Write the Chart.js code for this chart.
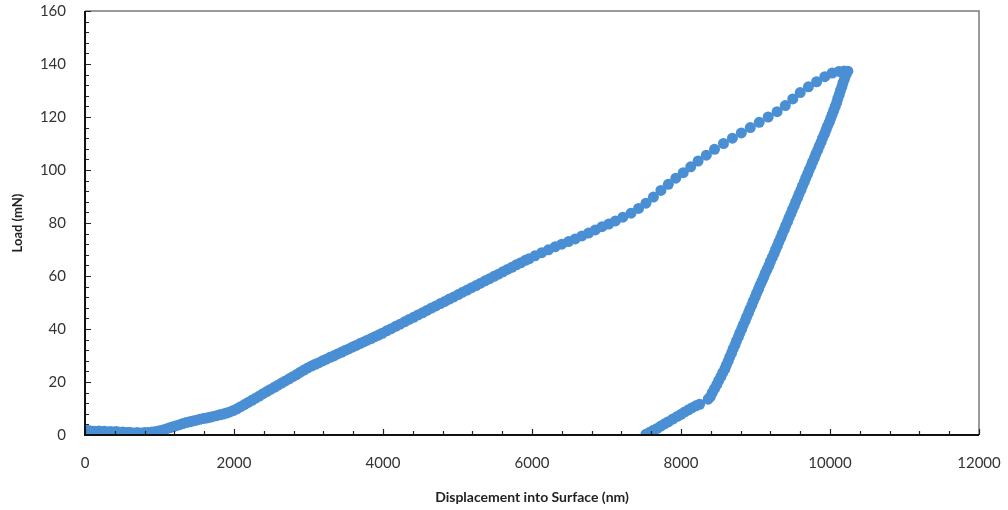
<!DOCTYPE html>
<html>
<head>
<meta charset="utf-8">
<script src="https://cdn.jsdelivr.net/npm/chart.js@4.4.1/dist/chart.umd.min.js"></script>
<style>
  html, body { margin: 0; padding: 0; background: #fff; }
  #wrap { width: 1008px; height: 510px; }
</style>
</head>
<body>
<div id="wrap"><canvas id="curve"></canvas></div>
<script>
// axis ranges and labels
var xTitle = 'Displacement into Surface (nm)';
var yTitle = 'Load (mN)';
var xTicks = [0, 2000, 4000, 6000, 8000, 10000, 12000];
var yTicks = [0, 20, 40, 60, 80, 100, 120, 140, 160];

// loading branch [nm, mN]
var loading = [
  [0,0.3],[10,1.5],[25,0.8],[40,1.7],[60,1.0],[80,1.5],[105,1.1],[130,1.4],[160,1.2],[190,1.5],
  [225,1.2],[260,1.4],[300,1.1],[340,1.3],[380,1.1],[420,1.3],[460,1.0],[505,1.1],[550,0.9],[600,1.0],
  [650,0.8],[700,0.9],[750,0.8],[800,0.9],[850,0.9],[900,1.1],[950,1.3],[1000,1.6],[1045,1.9],[1090,2.3],
  [1135,2.7],[1180,3.1],[1225,3.5],[1270,3.9],[1315,4.3],[1360,4.7],[1405,5.0],[1450,5.3],[1495,5.6],[1540,5.9],
  [1585,6.2],[1630,6.4],[1675,6.7],[1720,7.0],[1765,7.3],[1810,7.6],[1855,7.9],[1900,8.3],[1945,8.7],[1990,9.2],
  [2040,9.9],[2090,10.7],[2140,11.5],[2190,12.3],[2240,13.1],[2290,13.9],[2340,14.7],[2390,15.6],[2440,16.4],[2490,17.2],
  [2540,18.0],[2590,18.8],[2640,19.6],[2690,20.4],[2740,21.2],[2790,22.0],[2840,22.8],[2890,23.7],[2940,24.5],[2990,25.3],
  [3040,26.0],[3090,26.7],[3140,27.3],[3190,28.0],[3240,28.6],[3290,29.3],[3340,29.9],[3390,30.6],[3440,31.2],[3490,31.9],
  [3540,32.5],[3590,33.2],[3640,33.8],[3690,34.5],[3740,35.1],[3790,35.8],[3840,36.4],[3890,37.1],[3940,37.7],[3990,38.4],
  [4050,39.3],[4110,40.1],[4170,41.0],[4230,41.8],[4290,42.7],[4350,43.6],[4410,44.4],[4470,45.3],[4530,46.1],[4590,47.0],
  [4650,47.9],[4710,48.7],[4770,49.6],[4830,50.4],[4890,51.3],[4950,52.1],[5010,53.0],[5070,53.9],[5130,54.7],[5190,55.6],
  [5250,56.4],[5310,57.3],[5370,58.2],[5430,59.0],[5490,59.9],[5550,60.7],[5610,61.6],[5670,62.5],[5730,63.3],[5790,64.2],
  [5850,65.0],[5910,65.9],[5960,66.5],
  [6040,67.6],[6130,68.8],[6220,69.9],[6310,71.0],[6400,72.0],[6490,73.0],[6580,74.0],[6670,75.1],[6760,76.2],[6850,77.4],
  [6940,78.6],[7030,79.6],[7120,80.8],[7220,82.2],[7330,83.7],[7430,85.5],[7530,87.5],[7630,89.8],[7730,92.3],[7830,94.6],
  [7930,96.9],[8030,99.0],[8130,101.2],[8230,103.4],[8340,105.6],[8450,107.8],[8570,110.0],[8690,112.0],[8810,114.0],[8930,116.0],
  [9050,118.0],[9170,120.0],[9290,122.0],[9400,124.3],[9500,126.8],[9600,129.2],[9710,131.4],[9820,133.3],[9930,135.2],[10030,136.6],
  [10120,137.2],[10190,137.4]
];

// unloading branch [nm, mN]
var unloading = [
  [10240,137.3],[10215,136.0],[10195,134.5],[10175,133.0],[10160,131.5],[10140,130.0],[10125,128.5],[10105,127.0],[10090,125.5],[10070,124.0],
  [10050,122.5],[10030,121.0],[10010,119.5],[9990,118.0],[9965,116.5],[9945,115.0],[9925,113.5],[9900,112.0],[9880,110.5],[9855,109.0],
  [9835,107.5],[9810,106.0],[9790,104.5],[9765,103.0],[9745,101.5],[9720,100.0],[9700,98.5],[9675,97.0],[9655,95.5],[9630,94.0],
  [9610,92.5],[9585,91.0],[9565,89.5],[9540,88.0],[9520,86.5],[9495,85.0],[9475,83.5],[9450,82.0],[9430,80.5],[9405,79.0],
  [9385,77.5],[9360,76.0],[9340,74.5],[9315,73.0],[9295,71.5],[9270,70.0],[9250,68.5],[9225,67.0],[9200,65.5],[9180,64.0],
  [9155,62.5],[9130,61.0],[9110,59.5],[9085,58.0],[9060,56.5],[9040,55.0],[9015,53.5],[8995,52.0],[8970,50.5],[8950,49.0],
  [8925,47.5],[8905,46.0],[8880,44.5],[8860,43.0],[8835,41.5],[8815,40.0],[8790,38.5],[8770,37.0],[8745,35.5],[8725,34.0],
  [8700,32.5],[8680,31.0],[8655,29.5],[8635,28.0],[8610,26.5],[8590,25.0],[8560,23.5],[8535,22.0],[8505,20.5],[8480,19.0],
  [8450,17.5],[8420,16.0],[8395,14.5],[8365,13.5],
  [8250,11.6],[8200,11.0],[8150,10.3],[8100,9.5],[8050,8.7],[8000,7.8],[7950,7.0],[7890,6.0],[7830,5.0],[7780,4.2],
  [7730,3.4],[7680,2.5],[7630,1.8],[7580,1.0],[7530,0.3]
];

var dotColor = '#4a8fd4';
var fontFamily = 'Lato, "Open Sans", sans-serif';

function toPoints(arr) {
  return arr.map(function (p) { return { x: p[0], y: p[1] }; });
}

// frame on top/right plus inside tick marks, like the spreadsheet chart
var frameTicks = {
  id: 'frameTicks',
  afterDraw: function (chart) {
    var c = chart.ctx, a = chart.chartArea;
    var xs = chart.scales.x, ys = chart.scales.y;
    c.save();
    c.strokeStyle = '#7a7a7a';
    c.lineWidth = 1.5;
    c.beginPath();
    c.moveTo(a.left, a.top); c.lineTo(a.right, a.top); c.lineTo(a.right, a.bottom);
    c.stroke();

    c.strokeStyle = '#222';
    c.lineWidth = 1.2;
    c.beginPath();
    for (var v = 0; v <= 12000; v += 400) {
      var px = Math.round(xs.getPixelForValue(v)) + 0.5;
      var len = (v % 2000 === 0) ? 6 : 4;
      c.moveTo(px, a.bottom); c.lineTo(px, a.bottom - len);
    }
    for (var w = 0; w <= 160; w += 4) {
      var py = Math.round(ys.getPixelForValue(w)) + 0.5;
      var l2 = (w % 20 === 0) ? 6 : 4;
      c.moveTo(a.left, py); c.lineTo(a.left + l2, py);
    }
    c.stroke();

    c.strokeStyle = '#111';
    c.lineWidth = 2;
    c.beginPath();
    c.moveTo(a.left, a.top); c.lineTo(a.left, a.bottom); c.lineTo(a.right, a.bottom);
    c.stroke();
    c.restore();
  }
};

new Chart(document.getElementById('curve').getContext('2d'), {
  type: 'scatter',
  data: {
    datasets: [
      { label: 'loading', data: toPoints(loading), backgroundColor: dotColor, borderWidth: 0, pointRadius: 5.5 },
      { label: 'unloading', data: toPoints(unloading), backgroundColor: dotColor, borderWidth: 0, pointRadius: 5.5 }
    ]
  },
  options: {
    responsive: true,
    maintainAspectRatio: false,
    animation: false,
    layout: { padding: { top: 11, right: 29, left: 0, bottom: 0 } },
    plugins: {
      legend: { display: false },
      tooltip: { enabled: false }
    },
    scales: {
      x: {
        type: 'linear',
        min: 0, max: 12000,
        afterBuildTicks: function (s) { s.ticks = xTicks.map(function (v) { return { value: v }; }); },
        afterFit: function (s) { s.height = 75; s.paddingLeft = 0; s.paddingRight = 0; },
        grid: { display: false, drawTicks: false },
        border: { display: false },
        ticks: {
          padding: 19, color: '#333', maxRotation: 0,
          font: { family: fontFamily, size: 15 },
          callback: function (v) { return String(v); }
        },
        title: { display: true, text: xTitle, color: '#222', padding: { top: 13 }, font: { family: fontFamily, size: 14, weight: 'bold' } }
      },
      y: {
        type: 'linear',
        min: 0, max: 160,
        afterBuildTicks: function (s) { s.ticks = yTicks.map(function (v) { return { value: v }; }); },
        afterFit: function (s) { s.width = 85; s.paddingTop = 0; s.paddingBottom = 0; },
        grid: { display: false, drawTicks: false },
        border: { display: false },
        ticks: {
          padding: 19, color: '#333',
          font: { family: fontFamily, size: 15 },
          callback: function (v) { return String(v); }
        },
        title: { display: true, text: yTitle, color: '#222', padding: { top: 10, bottom: 0 }, font: { family: fontFamily, size: 13, weight: 'bold' } }
      }
    }
  },
  plugins: [frameTicks]
});
</script>
</body>
</html>
